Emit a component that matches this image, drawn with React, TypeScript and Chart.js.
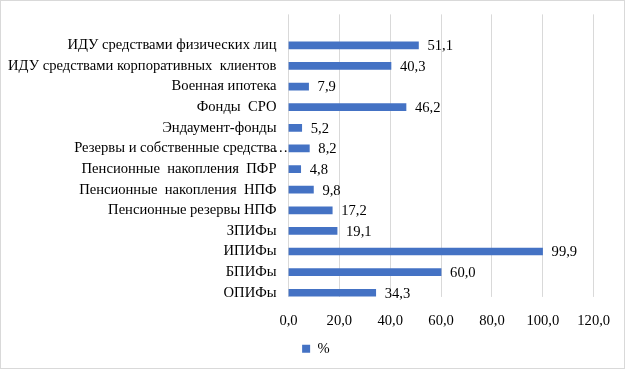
import React, { useEffect, useRef } from "react";
import { Chart, registerables } from "chart.js";

Chart.register(...registerables);

const categories = [
  "ИДУ средствами физических лиц",
  "ИДУ средствами корпоративных  клиентов",
  "Военная ипотека",
  "Фонды  СРО",
  "Эндаумент-фонды",
  "Резервы и собственные средства…",
  "Пенсионные  накопления  ПФР",
  "Пенсионные  накопления  НПФ",
  "Пенсионные резервы НПФ",
  "ЗПИФы",
  "ИПИФы",
  "БПИФы",
  "ОПИФы",
];

const values = [51.1, 40.3, 7.9, 46.2, 5.2, 8.2, 4.8, 9.8, 17.2, 19.1, 99.9, 60.0, 34.3];

const seriesName = "%";
const xMin = 0;
const xMax = 120;
const xStep = 20;

const FONT = "'Liberation Serif', 'Times New Roman', serif";
const FS = 14.6;
const TEXT = "#000000";
const GRID = "#d9d9d9";
const BAR = "#4472C4";
const YPAD = 12;

const fmt = (v: number) => v.toFixed(1).replace(".", ",");

const borderPlugin = {
  id: "outerBorder",
  beforeDraw(chart: any) {
    const { ctx, width, height } = chart;
    ctx.save();
    ctx.fillStyle = "#ffffff";
    ctx.fillRect(0, 0, width, height);
    ctx.strokeStyle = GRID;
    ctx.lineWidth = 1;
    ctx.strokeRect(0.5, 0.5, width - 1, height - 1);
    ctx.restore();
  },
};

const gridPlugin = {
  id: "customGrid",
  beforeDatasetsDraw(chart: any) {
    const { ctx, chartArea, scales } = chart;
    const xs = scales.x;
    const cat = (chartArea.bottom - chartArea.top) / categories.length;
    const top = chartArea.top - cat;
    const bottom = chartArea.bottom - cat * 0.3;
    ctx.save();
    ctx.strokeStyle = GRID;
    ctx.lineWidth = 1;
    xs.ticks.forEach((t: any) => {
      const x = Math.floor(xs.getPixelForValue(t.value)) + 0.5;
      ctx.beginPath();
      ctx.moveTo(x, top);
      ctx.lineTo(x, bottom);
      ctx.stroke();
    });
    ctx.restore();
  },
};

const labelPlugin = {
  id: "valueLabels",
  afterDatasetsDraw(chart: any) {
    const { ctx } = chart;
    const meta = chart.getDatasetMeta(0);
    ctx.save();
    ctx.font = `${FS}px ${FONT}`;
    ctx.fillStyle = TEXT;
    ctx.textAlign = "left";
    ctx.textBaseline = "middle";
    meta.data.forEach((el: any, i: number) => {
      ctx.fillText(fmt(values[i]), el.x + 9, el.y + 1);
    });
    // overflow ellipsis of truncated category names
    const ys = chart.scales.y;
    categories.forEach((c, i) => {
      if (c.endsWith("…")) {
        ctx.fillText("…", ys.right - YPAD - 3, ys.getPixelForValue(i));
      }
    });
    ctx.restore();
  },
};

const legendShift = {
  id: "legendShift",
  afterLayout(chart: any) {
    const lg = chart.legend;
    if (lg) {
      lg.left += 19;
      lg.right += 19;
    }
  },
};

export default function App() {
  const ref = useRef<HTMLCanvasElement>(null);
  useEffect(() => {
    document.body.style.margin = "0";
    const chart = new Chart(ref.current!, {
      type: "bar",
      data: {
        labels: categories,
        datasets: [
          {
            label: seriesName,
            data: values,
            backgroundColor: BAR,
            barThickness: 7,
          },
        ],
      },
      options: {
        indexAxis: "y",
        responsive: false,
        animation: false,
        layout: { padding: { top: 35, right: 31.3, bottom: 3, left: 0 } },
        scales: {
          x: {
            min: xMin,
            max: xMax,
            grid: { display: false, drawTicks: false },
            border: { display: false },
            ticks: {
              stepSize: xStep,
              padding: 9,
              color: TEXT,
              font: { family: FONT, size: FS },
              callback: (v: any) => fmt(Number(v)),
            },
            afterFit: (s: any) => {
              s.height = 28;
            },
          },
          y: {
            grid: { display: false, drawTicks: false },
            border: { display: false },
            ticks: {
              padding: YPAD,
              color: TEXT,
              autoSkip: false,
              font: { family: FONT, size: FS },
              callback: (_v: any, i: number) => categories[i].replace(/…$/, ""),
            },
            afterFit: (s: any) => {
              s.width = 288.5;
            },
          },
        },
        plugins: {
          legend: {
            position: "bottom",
            labels: {
              boxWidth: 8,
              boxHeight: 8,
              padding: 10.3,
              color: TEXT,
              font: { family: FONT, size: FS },
            },
          },
          tooltip: { enabled: false },
        },
      },
      plugins: [borderPlugin, gridPlugin, labelPlugin, legendShift],
    });
    return () => chart.destroy();
  }, []);
  return (
    <div style={{ width: 625, height: 369 }}>
      <canvas ref={ref} width={625} height={369} style={{ display: "block" }} />
    </div>
  );
}
